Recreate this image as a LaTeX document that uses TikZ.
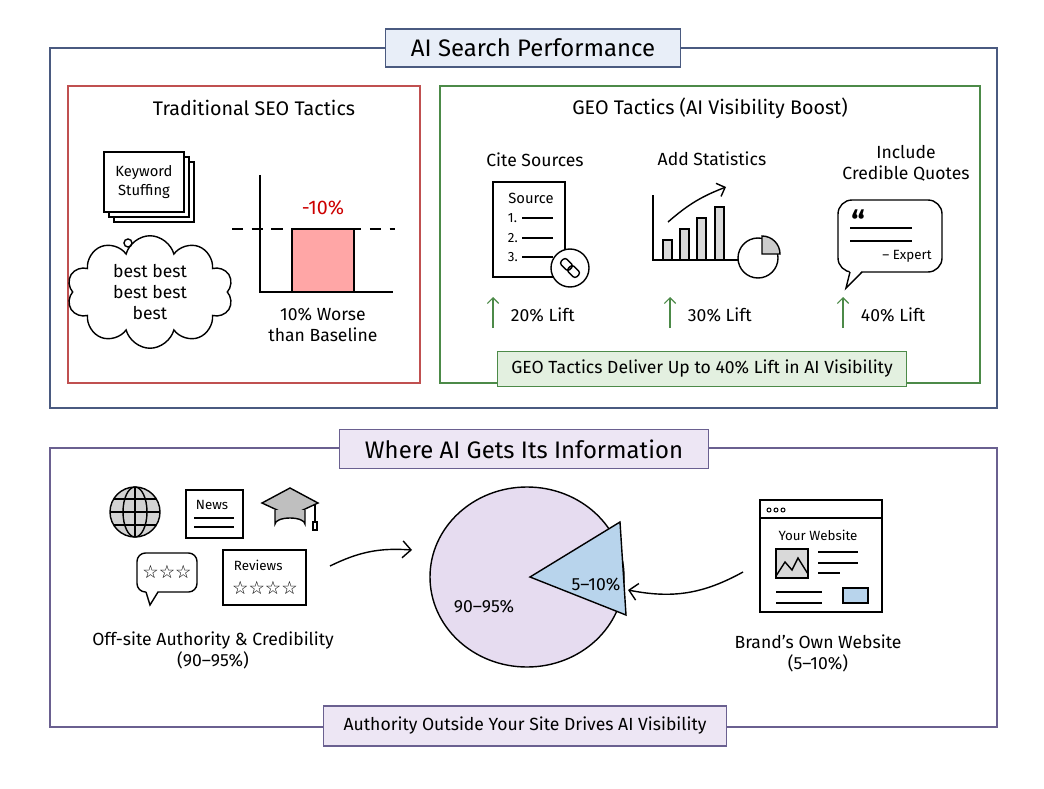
\documentclass[tikz,border=0pt]{standalone}
\usepackage{fontspec}
\setmainfont{Fira Sans}
\newfontfamily\symfont{DejaVu Sans}
\usetikzlibrary{positioning,arrows.meta,shapes.symbols,shapes.callouts}
\definecolor{topblue}{HTML}{4A5A80}
\definecolor{botpurple}{HTML}{6A6090}
\definecolor{seored}{HTML}{C05050}
\definecolor{geogreen}{HTML}{4C8A48}
\definecolor{lightblue}{HTML}{E8EEF8}
\definecolor{lightgreen}{HTML}{E3F0E0}
\definecolor{lavender}{HTML}{E6DCF0}
\definecolor{wedgeblue}{HTML}{B8D4EC}
\tikzset{
  title/.style={draw=#1, thick, inner xsep=18pt, inner ysep=7pt, font=\fontsize{17}{20}\selectfont},
  label/.style={font=\fontsize{12.5}{15}\selectfont, align=center},
  small/.style={font=\fontsize{9.5}{11}\selectfont, align=center},
  ink/.style={line width=1pt, black},
  lift/.style={-{Straight Barb[length=4pt]}, geogreen, thick},
}
\begin{document}
\begin{tikzpicture}[x=0.025cm,y=-0.025cm]
\useasboundingbox (0,0) rectangle (1044,788);
% top panel
\draw[topblue, thick] (50,48) rectangle (997,408);
\node[title=topblue, fill=lightblue] (toptitle) at (533,48) {AI Search Performance};
\draw[seored, thick] (68,86) rectangle (420,383);
\node[label, font=\fontsize{14}{16}\selectfont] (seotitle) at (254,108) {Traditional SEO Tactics};
\draw[geogreen, thick] (440,86) rectangle (980,383);
\node[label, font=\fontsize{14}{16}\selectfont] (geotitle) at (710,108) {GEO Tactics (AI Visibility Boost)};
% keyword cards and cloud
\draw[ink, fill=white] (114,162) rectangle (194,222);
\draw[ink, fill=white] (109,157) rectangle (189,217);
\draw[ink, fill=white] (104,152) rectangle (184,212) node[small, font=\fontsize{10.5}{13}\selectfont, midway] (keyword) {Keyword\\Stuffing};
\draw[ink] (128,243) circle (4);
\node[cloud, draw, ink, cloud puffs=10, aspect=1.3, minimum width=118, minimum height=80, inner sep=0pt, label] (cloud) at (150,292) {best best\\best best\\best};
% worse-than-baseline chart
\fill[red!35] (292,229) rectangle (354,292);
\draw[ink] (292,292) -- (292,229) -- (354,229) -- (354,292);
\draw[ink] (260,175) -- (260,292) -- (393,292);
\draw[ink, dashed, dash pattern=on 8pt off 6pt] (232,229) -- (395,229);
\node[label, text=red!80!black, font=\fontsize{14}{16}\selectfont] (minus) at (323,208) {-10\%};
\node[label] (worse) at (323,325) {10\% Worse\\than Baseline};
% cite sources
\node[label] (cite) at (535,160) {Cite Sources};
\draw[ink, fill=white] (493,182) rectangle (565,277);
\node[small, font=\fontsize{10.5}{12}\selectfont] (source) at (531,198) {Source};
\foreach \i/\y in {1/218,2/238,3/257}{
  \node[small, anchor=west] at (503,\y) {\i.};
  \draw[ink] (522,\y) -- (553,\y);
}
\draw[ink, fill=white] (570,268) circle (19);
\draw[ink, rotate around={-45:(570,268)}, rounded corners=2] (559,264) rectangle (571,272) (569,264) rectangle (581,272);
% add statistics
\node[label] (stats) at (712,159) {Add Statistics};
\draw[ink] (653,195) -- (653,260) -- (740,260);
\foreach \x/\t in {663/240,680/229,697/218,715/207}{
  \draw[ink, fill=gray!30] (\x,260) rectangle (\x+9,\t);
}
\draw[ink, -{Straight Barb[length=5pt]}] (668,222) to[bend left=10] (726,187);
\draw[ink, fill=white] (758,258) circle (20);
\draw[ink, fill=gray!40] (762,254) -- (762,236) arc (270:360:18) -- cycle;
% credible quotes
\node[label] (quotes) at (906,163) {Include\\Credible Quotes};
\draw[ink, fill=white, rounded corners=10] (838,200) rectangle (942,272);
\fill[white] (850,270.5) -- (862,270.5) -- (846,288) -- cycle;
\draw[ink] (850,272) -- (846,288) -- (862,272);
\node[font=\bfseries\fontsize{22}{22}\selectfont] (mark) at (858,222) {``};
\draw[ink] (850,228) -- (912,228) (850,241) -- (912,241);
\node[small] (expert) at (907,256) {-- Expert};
% lifts
\foreach \x/\v in {493/20,670/30,843/40}{
  \draw[lift] (\x,328) -- (\x,297);
  \node[label, anchor=west] at (\x+13,315) {\v\% Lift};
}
\node[draw=geogreen, thick, fill=lightgreen, label, inner xsep=10pt, inner ysep=6pt] (geobanner) at (702,369) {GEO Tactics Deliver Up to 40\% Lift in AI Visibility};
% bottom panel
\draw[botpurple, thick] (50,448) rectangle (997,727);
\node[title=botpurple, fill=lavender!70] (bottitle) at (524,449) {Where AI Gets Its Information};
\node[draw=botpurple, thick, fill=lavender!70, label, inner xsep=14pt, inner ysep=8pt] (botbanner) at (525,726) {Authority Outside Your Site Drives AI Visibility};
% off-site icons
\draw[ink, fill=gray!35] (135,512) circle (25);
\draw[ink] (135,487) -- (135,537) (110,512) -- (160,512) (114,499) -- (156,499) (114,525) -- (156,525);
\draw[ink] (135,512) ellipse (12 and 25);
\draw[ink, fill=white] (186,490) rectangle (243,538);
\node[small, anchor=west] (news) at (191,505) {News};
\draw[ink] (194,518) -- (234,518) (194,527) -- (234,527);
\draw[ink, fill=gray!50] (262,503) -- (290,488) -- (318,503) -- (290,516) -- cycle;
\draw[ink, fill=gray!50] (275,510) -- (275,524) arc (180:360:15 and 6) -- (305,510);
\draw[ink] (315,504) -- (315,522) (313,522) rectangle (317,530);
\draw[ink, fill=white, rounded corners=6] (137,553) rectangle (197,592);
\fill[white] (146,590.5) -- (158,590.5) -- (150,605) -- cycle;
\draw[ink] (146,592) -- (150,605) -- (158,592);
\node[font=\symfont\fontsize{13}{14}\selectfont] (stars3) at (167,572) {☆☆☆};
\draw[ink, fill=white] (223,550) rectangle (306,605);
\node[small, anchor=west] (reviews) at (229,565) {Reviews};
\node[font=\symfont\fontsize{13}{14}\selectfont] (stars4) at (265,588) {☆☆☆☆};
\node[label] (offsite) at (213,650) {Off-site Authority \& Credibility\\(90--95\%)};
% pie
\draw[ink, fill=lavender] (527,577) ellipse (97 and 90);
\draw[ink, fill=wedgeblue] (530,577) -- (620,522) -- (626,615) -- cycle;
\coordinate (wedge) at (628,590);
\node[label] (big) at (484,607) {90--95\%};
\node[label] (sm) at (596,585) {5--10\%};
% website
\draw[ink, fill=white] (760,500) rectangle (882,612);
\draw[ink] (760,518) -- (882,518);
\foreach \x in {769,776,783} \draw[ink, line width=0.7pt] (\x,510) circle (2);
\node[small] (yoursite) at (818,535) {Your Website};
\draw[ink, fill=gray!30] (776,549) rectangle (808,578);
\draw[ink] (776,576) -- (785,562) -- (792,570) -- (798,558) -- (808,574);
\draw[ink] (818,552) -- (858,552) (818,563) -- (858,563) (818,573) -- (840,573) (776,592) -- (822,592) (776,603) -- (822,603);
\draw[ink, fill=wedgeblue] (843,588) rectangle (868,603);
\node[label] (brand) at (818,653) {Brand's Own Website\\(5--10\%)};
% arrows into the pie
\coordinate (offend) at (330,566);
\coordinate (webend) at (743,572);
\draw[ink, -{Straight Barb[length=6pt]}] (offend) to[bend left=15] (412,550);
\draw[ink, -{Straight Barb[length=6pt]}] (webend) to[bend left=20] (wedge);
\end{tikzpicture}
\end{document}
